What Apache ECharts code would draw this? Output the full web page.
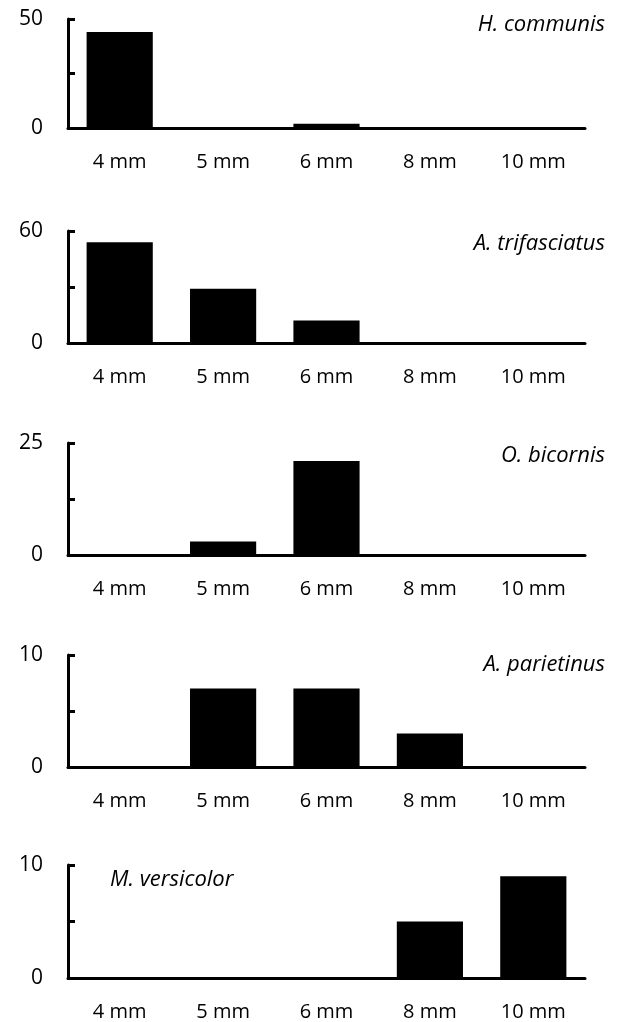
<!DOCTYPE html>
<html>
	<head>
		<meta charset="utf-8">
		<title>ECharts</title>
		<style>
		html,body { height:100%; width:100%; margin:0; padding:0; background:#fff; }
		</style>
		<script src="https://cdn.jsdelivr.net/npm/echarts@6/dist/echarts.min.js"></script>
	</head>
	<body>
		<div id="bars" style="height:1022px;width:622px;"></div>
		<script type="text/javascript">
			// 数据
			var sizes = ['4 mm', '5 mm', '6 mm', '8 mm', '10 mm'];
			var species = ['H. communis', 'A. trifasciatus', 'O. bicornis', 'A. parietinus', 'M. versicolor'];
			var hCommunis = [44, 0, 2, 0, 0];
			var aTrifasciatus = [54, 29, 12, 0, 0];
			var oBicornis = [0, 3, 21, 0, 0];
			var aParietinus = [0, 7, 7, 3, 0];
			var mVersicolor = [0, 0, 0, 5, 9];
			var yMax = [50, 60, 25, 10, 10];

			var allData = [hCommunis, aTrifasciatus, oBicornis, aParietinus, mVersicolor];
			var gridTop = [19, 231, 443, 655, 865];
			var gridH = [109, 112, 112, 112, 113];
			var titleMid = [24.5, 244, 456, 665, 880];
			var font = '"Open Sans", "DejaVu Sans", sans-serif';
			var titleSize = 22;

			var myChart = echarts.init(document.getElementById('bars'));
			var grid = [], xAxis = [], yAxis = [], series = [], title = [];

			for (var i = 0; i < 5; i++) {
				grid.push({ left: 68, right: 37, top: gridTop[i], height: gridH[i] });
				xAxis.push({
					type: 'category',
					gridIndex: i,
					data: sizes,
					axisLine: { lineStyle: { color: '#000', width: 3 } },
					axisTick: { show: false },
					axisLabel: { color: '#000', fontSize: 20, fontFamily: font, margin: 24 }
				});
				(function (max) {
					yAxis.push({
						type: 'value',
						gridIndex: i,
						min: 0,
						max: max,
						interval: max / 2,
						splitLine: { show: false },
						axisLine: { show: true, lineStyle: { color: '#000', width: 3 } },
						axisTick: { show: true, inside: true, length: 7, lineStyle: { color: '#000', width: 3 } },
						axisLabel: {
							color: '#000', fontSize: 21, fontFamily: font, margin: 25,
							formatter: function (v) { return (v === 0 || v === max) ? String(v) : ''; }
						}
					});
				})(yMax[i]);
				series.push({
					type: 'bar',
					xAxisIndex: i,
					yAxisIndex: i,
					data: allData[i],
					barCategoryGap: '36%',
					itemStyle: { color: '#000' },
					silent: true
				});
				var t = {
					text: species[i],
					top: titleMid[i] - titleSize / 2,
					padding: 0,
					textStyle: { fontStyle: 'italic', fontWeight: 'normal', fontSize: titleSize, fontFamily: font, color: '#000' }
				};
				if (i === 4) { t.left = 110; } else { t.right = 17; }
				title.push(t);
			}

			var option = {
				animation: false,
				title: title,
				grid: grid,
				xAxis: xAxis,
				yAxis: yAxis,
				series: series
			};
			myChart.setOption(option);
		</script>
	</body>
</html>
